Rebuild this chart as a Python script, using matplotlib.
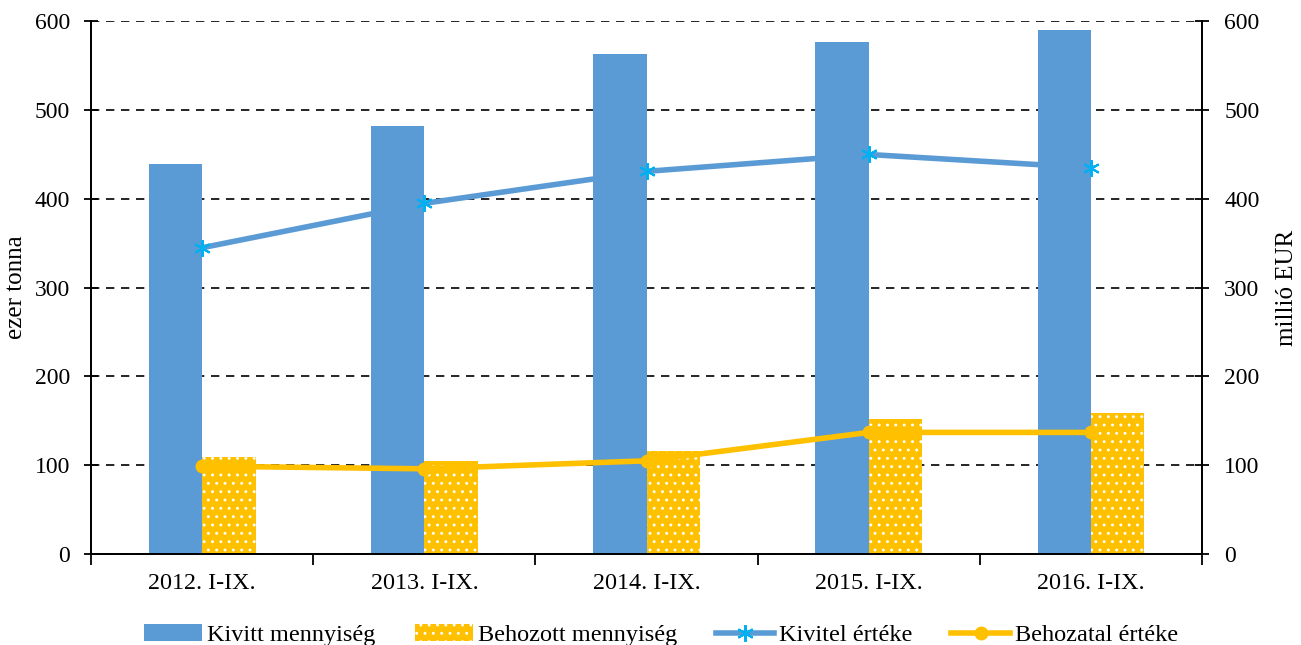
import numpy as np
import matplotlib.pyplot as plt
from matplotlib.lines import Line2D
from matplotlib.patches import Patch

plt.rcParams['font.family'] = ['Liberation Serif', 'DejaVu Serif']
plt.rcParams['hatch.linewidth'] = 0.9

# Adatok
evek = ['2012. I-IX.', '2013. I-IX.', '2014. I-IX.', '2015. I-IX.', '2016. I-IX.']
kivitt_menny = [439, 482, 563, 577, 590]
behozott_menny = [109, 105, 116, 152, 159]
kivitel_ertek = [345, 395, 431, 450, 435]
behozatal_ertek = [99, 96, 105, 137, 137]

kek = '#5B9BD5'
sarga = '#FFC000'

fig = plt.figure(figsize=(13.01, 6.45), dpi=100)
ax = fig.add_axes([0.07, 0.141, 0.854, 0.826])
ax2 = ax.twinx()

x = np.arange(len(evek))
w = 0.24
ax.bar(x - w / 2, kivitt_menny, w, color=kek, zorder=2)
ax.bar(x + w / 2, behozott_menny, w, color=sarga, edgecolor='white',
       linewidth=0, hatch='..', zorder=2)

ax2.plot(x, kivitel_ertek, color=kek, lw=4, zorder=3)
ax2.plot(x, kivitel_ertek, ls='none', marker=(6, 2, 0), ms=12, mew=1.5,
         mec='#00B0F0', zorder=4)
ax2.plot(x, behozatal_ertek, color=sarga, lw=4, marker='o', ms=9, zorder=3)

for a, p in ((ax, 10), (ax2, 11)):
    a.set_ylim(0, 600)
    a.set_yticks(range(0, 601, 100))
    a.tick_params(axis='y', labelsize=17, direction='inout', length=10,
                  width=1.3, pad=p)
    a.spines['top'].set_visible(False)
    for s in ('left', 'right', 'bottom'):
        a.spines[s].set_linewidth(1.3)
ax.set_xlim(-0.5, len(evek) - 0.5)
ax.set_xticks(x)
ax.set_xticklabels(evek, fontsize=17.4)
ax.tick_params(axis='x', length=0, pad=14)
ax.set_xticks(np.arange(-0.5, len(evek)), minor=True)
ax.tick_params(axis='x', which='minor', length=8, width=1.3)
ax.yaxis.grid(True, color='black', ls=(0, (5, 4)), lw=1.2, zorder=0)
ax.set_axisbelow(True)

ax.set_ylabel('ezer tonna', fontsize=18, labelpad=6)
ax2.set_ylabel('millió EUR', fontsize=18, labelpad=12)

handles = [
    Patch(facecolor=kek),
    Patch(facecolor=sarga, edgecolor='white', linewidth=0, hatch='..'),
    Line2D([], [], color=kek, lw=4, marker=(6, 2, 0), ms=12, mec='#00B0F0', mew=1.5),
    Line2D([], [], color=sarga, lw=4, marker='o', ms=9),
]
labels = ['Kivitt mennyiség', 'Behozott mennyiség', 'Kivitel értéke', 'Behozatal értéke']
fig.legend(handles, labels, loc='center', bbox_to_anchor=(0.508, 0.015), ncol=4,
           frameon=False, fontsize=17.5, handlelength=2.4, handletextpad=0.2,
           columnspacing=1.6)

fig.savefig('out.png', dpi=100)
